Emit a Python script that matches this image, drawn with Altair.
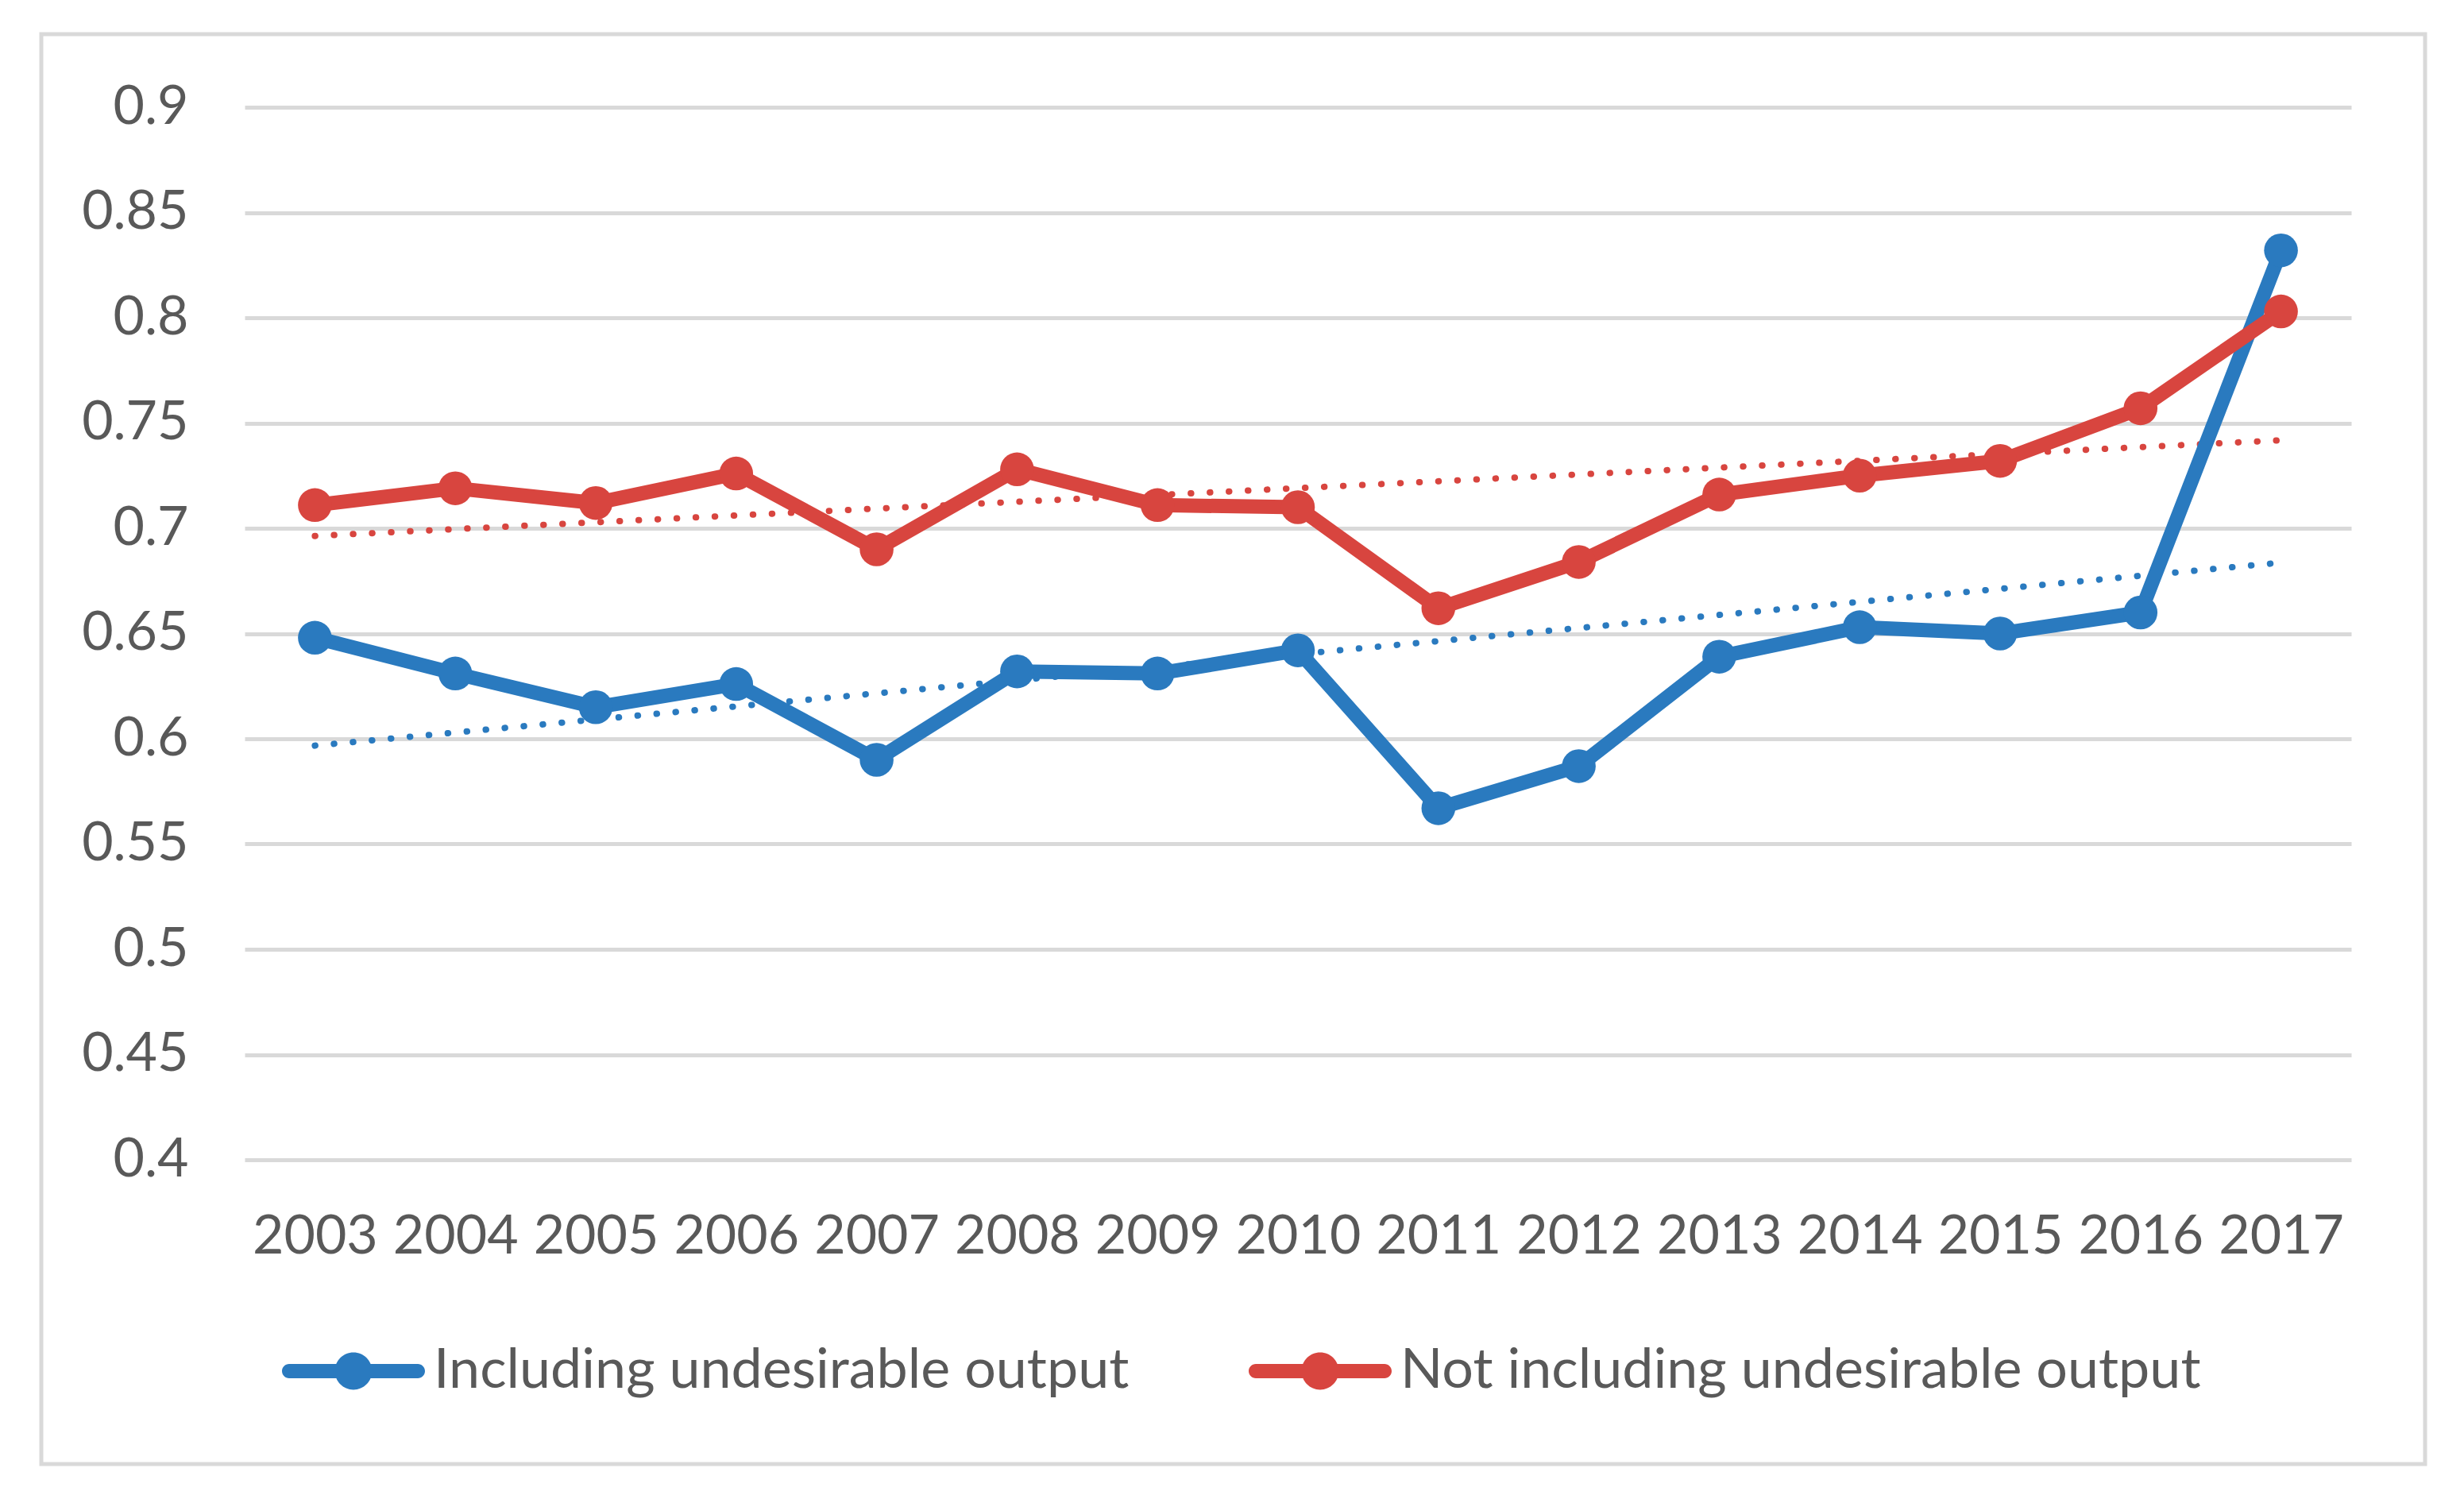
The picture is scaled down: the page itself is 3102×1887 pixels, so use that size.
import altair as alt
import pandas as pd

# ---- data ----
years = [2003, 2004, 2005, 2006, 2007, 2008, 2009, 2010,
         2011, 2012, 2013, 2014, 2015, 2016, 2017]
including = [0.648, 0.631, 0.615, 0.626, 0.590, 0.632, 0.631, 0.642,
             0.567, 0.587, 0.639, 0.653, 0.650, 0.660, 0.832]
not_including = [0.711, 0.719, 0.712, 0.726, 0.690, 0.728, 0.711, 0.710,
                 0.662, 0.684, 0.716, 0.725, 0.732, 0.757, 0.803]
series_names = ["Including undesirable output", "Not including undesirable output"]
series_colors = ["#2a7abf", "#d8453f"]
y_ticks = [0.4, 0.45, 0.5, 0.55, 0.6, 0.65, 0.7, 0.75, 0.8, 0.85, 0.9]

rows = []
for name, vals in zip(series_names, [including, not_including]):
    for yr, v in zip(years, vals):
        rows.append({"year": yr, "value": v, "series": name})
df = pd.DataFrame(rows)

FONT = "Lato"
TXT = "#595959"
GRID = "#d9d9d9"

# legend symbol: line with a circle marker in the middle
LEG_PATH = ("M-0.9,-0.1 H0.9 A0.1,0.1 0 0,1 0.9,0.1 H-0.9 A0.1,0.1 0 0,1 -0.9,-0.1 Z "
            "M-0.26,0 A0.26,0.26 0 1,1 0.26,0 A0.26,0.26 0 1,1 -0.26,0 Z")

x_enc = alt.X(
    "year:O",
    scale=alt.Scale(type="point", padding=0.5),
    axis=alt.Axis(title=None, labelAngle=0, labelFont=FONT, labelFontSize=68,
                  labelColor=TXT, labelPadding=97, labelBaseline="middle",
                  ticks=False, tickSize=0, domain=False, grid=False),
)
y_enc = alt.Y(
    "value:Q",
    scale=alt.Scale(domain=[0.4, 0.9], zero=False, nice=False),
    axis=alt.Axis(title=None, values=y_ticks, format="~g", labelFont=FONT,
                  labelFontSize=68, labelColor=TXT, labelPadding=71,
                  ticks=False, tickSize=0, domain=False, grid=True,
                  gridColor=GRID, gridWidth=5),
)
color_scale = alt.Scale(domain=series_names, range=series_colors)

frame = alt.Chart(pd.DataFrame({"k": [0]})).mark_rect(
    fill="white", fillOpacity=0, stroke=GRID, strokeWidth=5
).encode(
    x=alt.value(-256), x2=alt.value(2745), y=alt.value(-92), y2=alt.value(1708)
)

base = alt.Chart(df)

trend_layers = []
line_layers = []
for name, col in zip(series_names, series_colors):
    sub = base.transform_filter(alt.datum.series == name)
    trend_layers.append(
        sub.transform_regression("year", "value")
        .mark_line(strokeWidth=8, strokeDash=[0.5, 23.5], strokeCap="round", color=col)
        .encode(x=x_enc, y=y_enc)
    )
    line_layers.append(
        sub.mark_line(strokeWidth=18, strokeJoin="round", color=col)
        .encode(x=x_enc, y=y_enc)
    )

points = base.mark_point(filled=True, size=1810, opacity=1).encode(
    x=x_enc, y=y_enc,
    color=alt.Color(
        "series:N", scale=color_scale, sort=series_names,
        legend=alt.Legend(
            title=None, orient="none", legendX=47, legendY=1501,
            direction="horizontal", symbolType=LEG_PATH, symbolSize=32400,
            symbolStrokeWidth=0, symbolOpacity=1, labelFont=FONT,
            labelFontSize=70, labelColor=TXT, labelOffset=11, labelLimit=3000,
            columnPadding=150, padding=0, rowPadding=0,
        ),
    ),
)

chart = alt.layer(frame, *trend_layers, *line_layers, points).properties(
    width=2652,
    height=1325,
    autosize=alt.AutoSizeParams(type="none"),
    padding={"left": 300, "top": 127, "right": 134, "bottom": 410},
    background="white",
).configure_view(stroke=None)

chart.save("out.html", embed_options={"renderer": "svg", "actions": False})
